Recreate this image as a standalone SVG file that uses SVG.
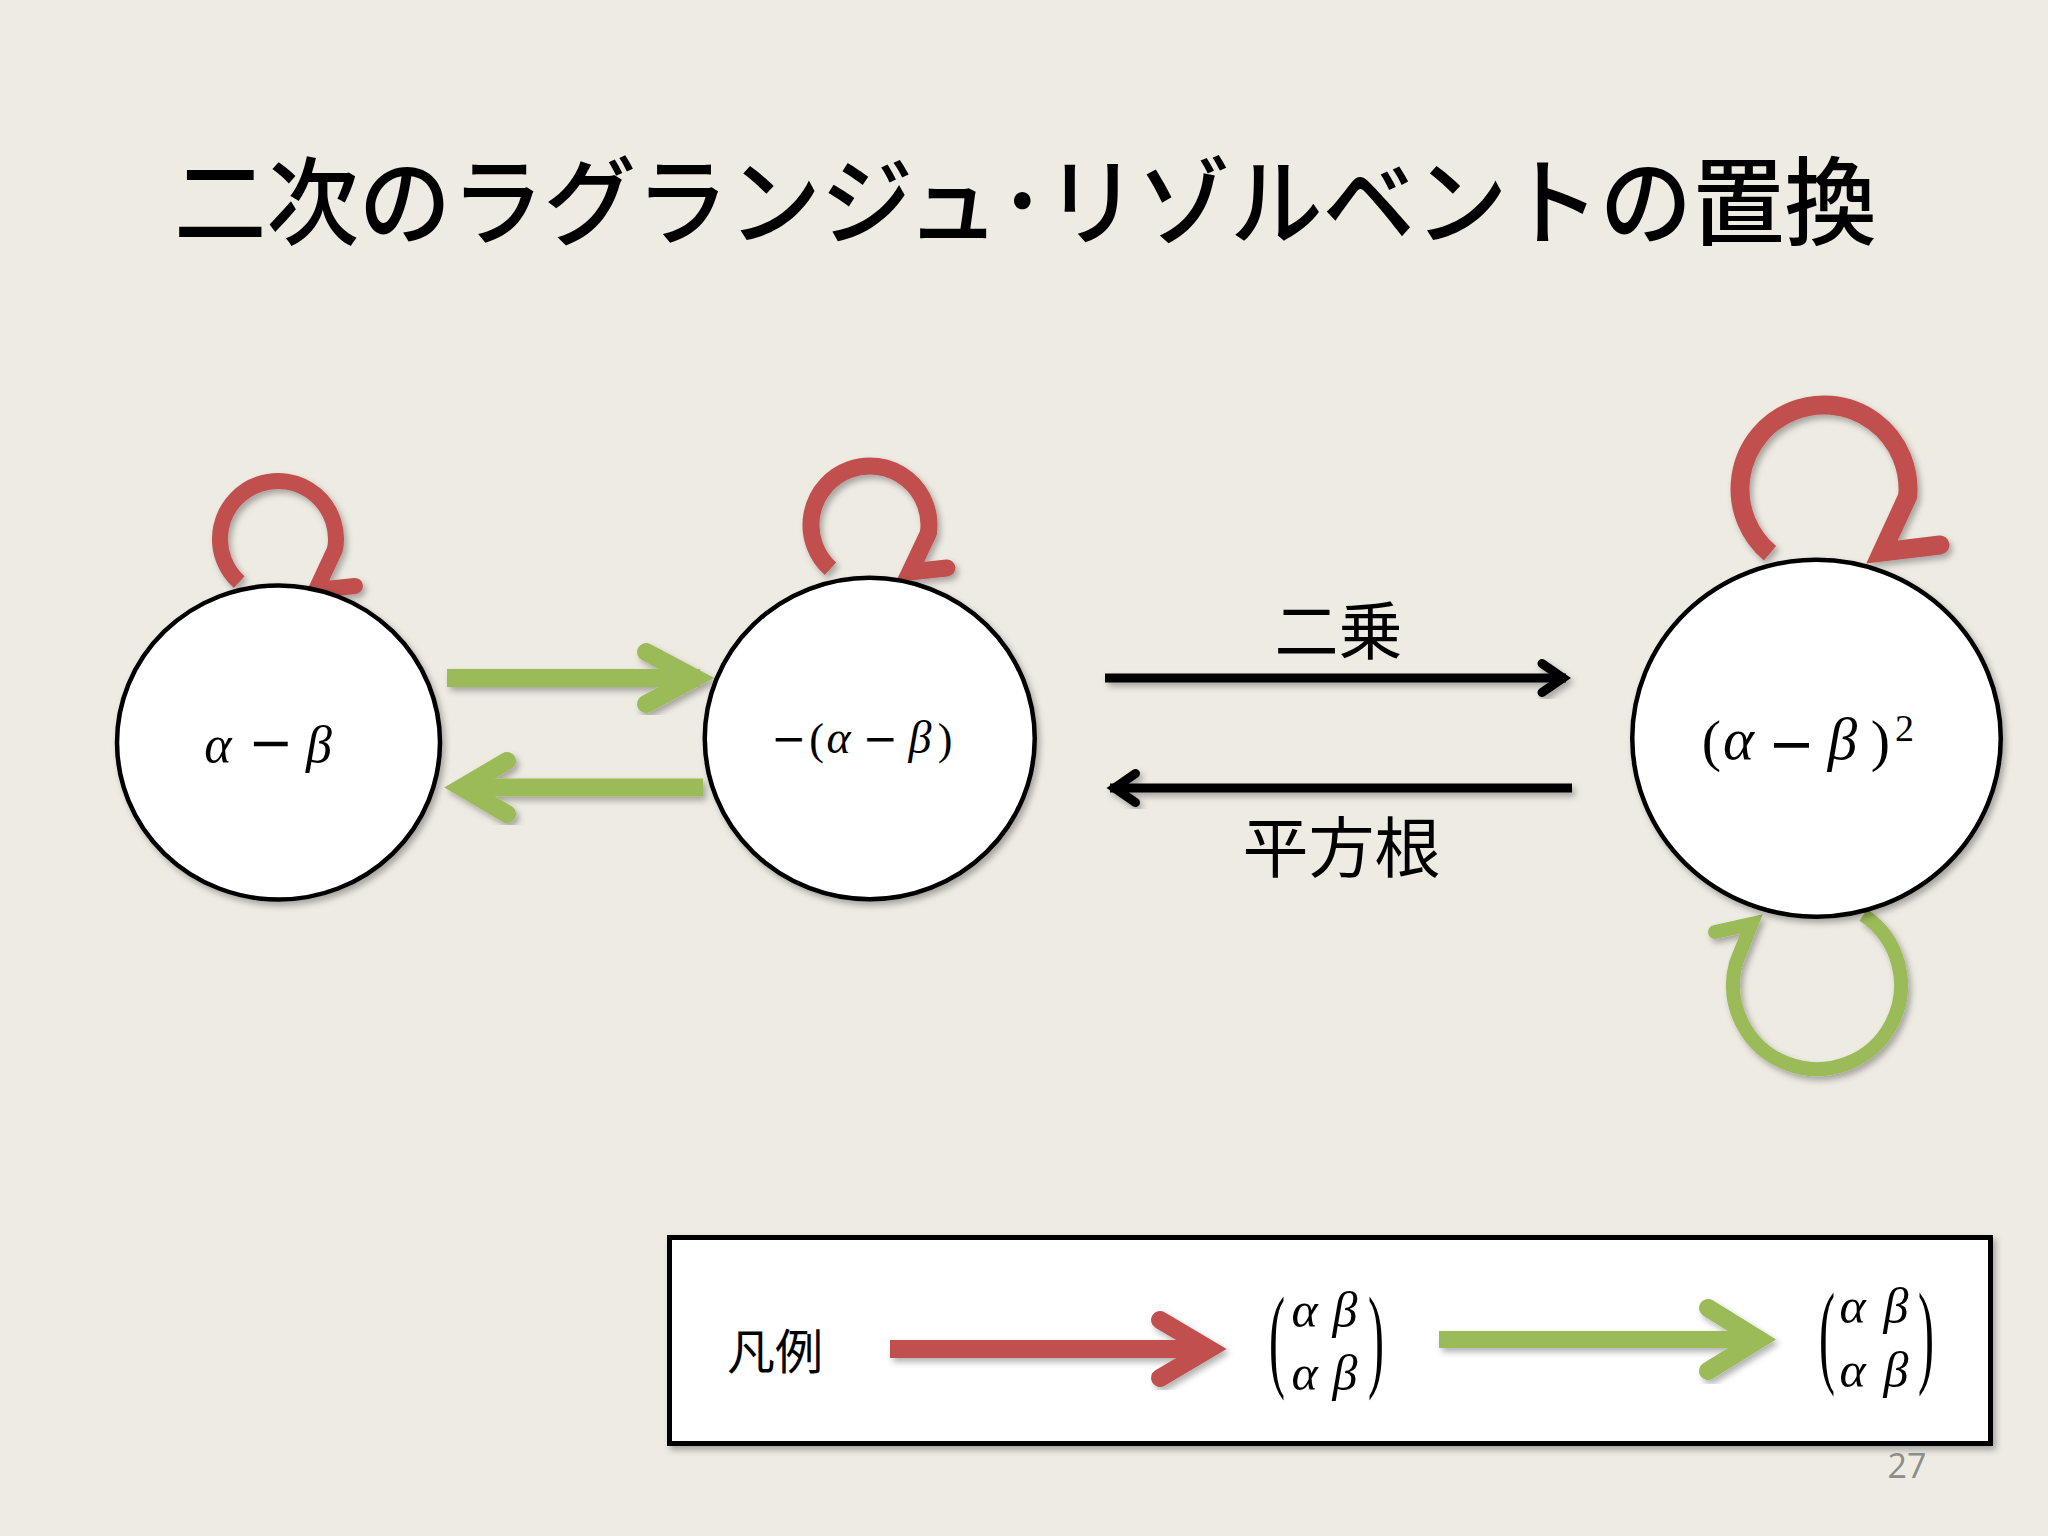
<svg xmlns="http://www.w3.org/2000/svg" width="2048" height="1536" viewBox="0 0 2048 1536">
<defs>
<style>
.jp{font-family:"Noto Sans CJK JP","Noto Sans CJK SC",sans-serif;fill:#000}
.m{font-family:"Liberation Serif",serif;font-style:italic;fill:#000;text-anchor:middle}
.mu{font-family:"Liberation Serif",serif;fill:#000;text-anchor:middle}
.minus{font-family:"DejaVu Sans",sans-serif;fill:#000;text-anchor:middle}
.node{fill:#fff;stroke:#000;stroke-width:4.5}
.red{stroke:#C0504D;fill:none}
.green{stroke:#9BBB59;fill:none}
.blk{stroke:#000;fill:none}
.shaft{stroke-linecap:butt}
.head{stroke-linecap:round;stroke-linejoin:miter;stroke-miterlimit:10}
</style>
<filter id="sh" x="-20%" y="-20%" width="140%" height="140%">
<feDropShadow dx="3" dy="4" stdDeviation="3" flood-color="#000" flood-opacity="0.3"/>
</filter>
</defs>
<rect width="2048" height="1536" fill="#EEEBE3"/>
<text class="jp" x="174" y="237" font-size="96" font-weight="500" textLength="1703" lengthAdjust="spacingAndGlyphs">二次のラグランジュ･リゾルベントの置換</text>

<g id="connectors">
<g id="loop1" class="red" filter="url(#sh)">
<path class="shaft" stroke-width="16" d="M239.2,582.1 A58,58 0 1 1 335.1,549.1"/>
<path class="head" stroke-width="16" d="M335.1,549.1 L316,590 L355,586"/>
</g>
<g id="loop2" class="red" filter="url(#sh)">
<path class="shaft" stroke-width="17" d="M830.5,568.8 A59,59 0 1 1 928.4,533.2"/>
<path class="head" stroke-width="17" d="M928.4,533.2 L910,572 L947,568"/>
</g>
<g id="loop3" class="red" filter="url(#sh)">
<path class="shaft" stroke-width="19" d="M1770,553.3 A84,84 0 1 1 1907.7,496.3"/>
<path class="head" stroke-width="19" d="M1907.7,496.3 L1882,552 L1940,545"/>
</g>
<g id="loop4" class="green" filter="url(#sh)">
<path class="shaft" stroke-width="14" d="M1863.4,915 A84,84 0 1 1 1735.9,963.3"/>
<path class="head" stroke-width="14" d="M1735.9,963.3 L1751.5,924 L1715,932"/>
</g>
<g id="g12" class="green" filter="url(#sh)">
<path class="shaft" stroke-width="18" d="M447,678 L700,678"/>
<path class="head" stroke-width="18" d="M646,652 L695,678 L646,704"/>
</g>
<g id="g21" class="green" filter="url(#sh)">
<path class="shaft" stroke-width="18" d="M703,787.5 L470,787.5"/>
<path class="head" stroke-width="18" d="M507,761 L462,787.5 L507,814"/>
</g>
<g id="sq" class="blk" filter="url(#sh)">
<path class="shaft" stroke-width="9" d="M1105,678 L1566,678"/>
<path class="head" stroke-width="9" d="M1542,663.5 L1563,678 L1542,692.5"/>
</g>
<g id="rt" class="blk" filter="url(#sh)">
<path class="shaft" stroke-width="9" d="M1572,788 L1110,788"/>
<path class="head" stroke-width="9" d="M1135.5,773.5 L1114.5,788 L1135.5,802.5"/>
</g>
</g>

<text class="jp" x="1338.5" y="654" font-size="64" text-anchor="middle">二乗</text>
<text class="jp" x="1341.5" y="872" font-size="66" text-anchor="middle">平方根</text>

<g id="node1">
<ellipse class="node" cx="278.5" cy="742.5" rx="161.5" ry="157" filter="url(#sh)"/>
<text class="m" x="218" y="762" font-size="52">α</text>
<text class="minus" x="270.5" y="761" font-size="54">−</text>
<text class="m" x="319" y="762" font-size="52">β</text>
</g>

<g id="node2">
<ellipse class="node" cx="869.75" cy="738.5" rx="165" ry="160.75" filter="url(#sh)"/>
<text class="minus" x="788.5" y="753" font-size="42">−</text>
<text class="mu" x="816.5" y="754" font-size="44">(</text>
<text class="m" x="838.5" y="753" font-size="46">α</text>
<text class="minus" x="880" y="753" font-size="42">−</text>
<text class="m" x="920" y="753" font-size="46">β</text>
<text class="mu" x="945" y="754" font-size="44">)</text>
</g>

<g id="node3">
<ellipse class="node" cx="1816.5" cy="738.25" rx="184.25" ry="178.5" filter="url(#sh)"/>
<text class="mu" x="1711.5" y="760" font-size="58">(</text>
<text class="m" x="1738.5" y="759" font-size="59">α</text>
<text class="minus" x="1791.5" y="763" font-size="56">−</text>
<text class="m" x="1842.5" y="759" font-size="59">β</text>
<text class="mu" x="1880.5" y="760" font-size="58">)</text>
<text class="mu" x="1904.5" y="741" font-size="38">2</text>
</g>

<g id="legend">
<rect x="669.5" y="1237.5" width="1321" height="206" fill="#fff" stroke="#000" stroke-width="5" filter="url(#sh)"/>
<text class="jp" x="727" y="1369" font-size="48">凡例</text>
<g class="red" filter="url(#sh)">
<path class="shaft" stroke-width="18" d="M890,1349 L1200,1349"/>
<path class="head" stroke-width="18" d="M1160,1320 L1209,1349 L1160,1378"/>
</g>
<g class="green" filter="url(#sh)">
<path class="shaft" stroke-width="17" d="M1439,1339.5 L1750,1339.5"/>
<path class="head" stroke-width="18" d="M1708,1308 L1759,1339.5 L1708,1371"/>
</g>
<text class="mu" font-size="48" transform="translate(1277,1347) scale(1,2.4)" y="12">(</text>
<text class="m" x="1304.5" y="1327" font-size="50">α</text>
<text class="m" x="1345" y="1327" font-size="50">β</text>
<text class="m" x="1304.5" y="1390" font-size="50">α</text>
<text class="m" x="1345" y="1390" font-size="50">β</text>
<text class="mu" font-size="48" transform="translate(1376,1347) scale(1,2.4)" y="12">)</text>
<text class="mu" font-size="48" transform="translate(1827,1343) scale(1,2.4)" y="12">(</text>
<text class="m" x="1852.5" y="1323" font-size="50">α</text>
<text class="m" x="1896" y="1323" font-size="50">β</text>
<text class="m" x="1852.5" y="1387" font-size="50">α</text>
<text class="m" x="1896" y="1387" font-size="50">β</text>
<text class="mu" font-size="48" transform="translate(1926,1343) scale(1,2.4)" y="12">)</text>
</g>
<text x="1907" y="1478" font-family="Open Sans, sans-serif" font-size="34" fill="#8C8C8C" text-anchor="middle">27</text>
</svg>
